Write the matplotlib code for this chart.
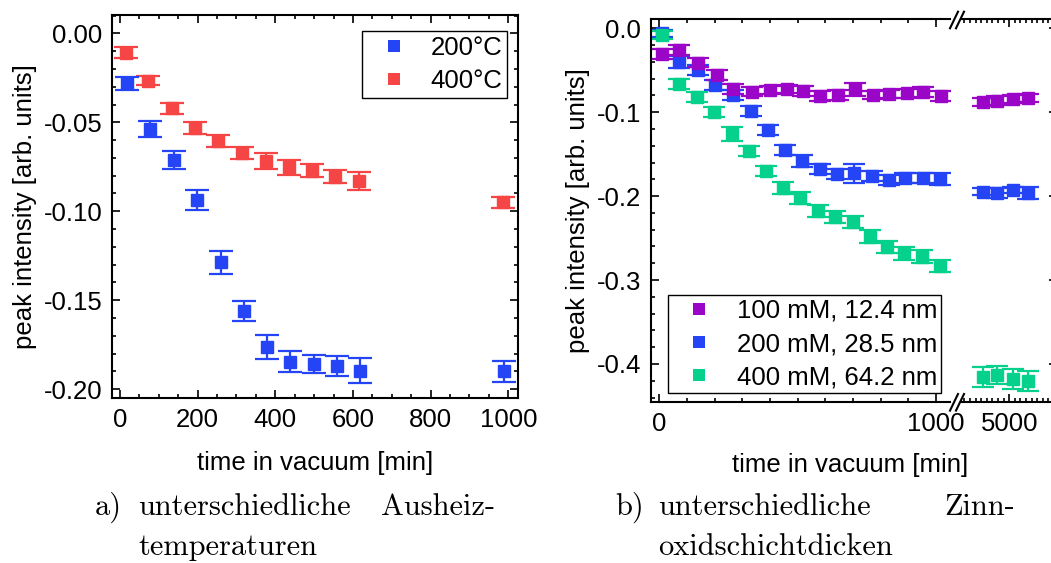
import numpy as np
import matplotlib
matplotlib.use("Agg")
import matplotlib.pyplot as plt
from matplotlib.lines import Line2D
from matplotlib.ticker import MultipleLocator, FixedLocator, FormatStrFormatter

plt.rcParams['font.family'] = ['Liberation Sans', 'DejaVu Sans']
plt.rcParams['axes.unicode_minus'] = False

# --- panel a: different annealing temperatures ---
x_200 = [17, 78, 138, 199, 259, 319, 379, 439, 499, 558, 618, 988]
y_200 = [-0.0281, -0.0539, -0.0712, -0.0937, -0.1287, -0.1560, -0.1764, -0.1845,
         -0.1858, -0.1870, -0.1895, -0.1900]
e_200 = [0.0036, 0.0044, 0.0050, 0.0058, 0.0065, 0.0058, 0.0066, 0.0060,
         0.0052, 0.0057, 0.0068, 0.0057]

x_400 = [15, 73, 133, 193, 253, 314, 375, 435, 495, 554, 615, 986]
y_400 = [-0.0109, -0.0266, -0.0421, -0.0530, -0.0603, -0.0671, -0.0717, -0.0753,
         -0.0772, -0.0805, -0.0830, -0.0948]
e_400 = [0.0031, 0.0027, 0.0030, 0.0034, 0.0034, 0.0035, 0.0044, 0.0043,
         0.0037, 0.0037, 0.0052, 0.0031]

# --- panel b: different tin oxide thicknesses (broken x axis) ---
x_100mM = [9, 71, 141, 207, 267, 334, 400, 460, 520, 581, 645, 707, 771, 831, 894, 954, 1017,
           3830, 4460, 5170, 5840]
y_100mM = [-0.0306, -0.0259, -0.0410, -0.0557, -0.0727, -0.0755, -0.0735, -0.0727, -0.0743,
           -0.0807, -0.0795, -0.0727, -0.0795, -0.0783, -0.0775, -0.0755, -0.0807,
           -0.0882, -0.0862, -0.0846, -0.0834]
e_100mM = [0.006, 0.006, 0.005, 0.006, 0.006, 0.005, 0.005, 0.005, 0.006, 0.006, 0.006,
           0.008, 0.005, 0.005, 0.005, 0.006, 0.006, 0.005, 0.005, 0.005, 0.005]

x_200mM = [9, 72, 141, 201, 267, 330, 394, 455, 514, 581, 641, 704, 767, 828, 888, 952, 1015,
           3830, 4460, 5170, 5840]
y_200mM = [-0.0060, -0.0398, -0.0497, -0.0676, -0.0795, -0.0986, -0.1212, -0.1450, -0.1578,
           -0.1680, -0.1737, -0.1729, -0.1760, -0.1808, -0.1788, -0.1788, -0.1800,
           -0.1947, -0.1967, -0.1927, -0.1967]
e_200mM = [0.004, 0.007, 0.006, 0.006, 0.006, 0.006, 0.006, 0.006, 0.007, 0.006, 0.006,
           0.011, 0.006, 0.006, 0.006, 0.006, 0.007, 0.004, 0.006, 0.004, 0.007]

x_400mM = [9, 71, 137, 198, 261, 324, 386, 448, 508, 574, 634, 700, 761, 824, 884, 948, 1015,
           3830, 4460, 5170, 5840]
y_400mM = [-0.0080, -0.0664, -0.0815, -0.0994, -0.1260, -0.1459, -0.1697, -0.1907, -0.2026,
           -0.2174, -0.2245, -0.2305, -0.2484, -0.2603, -0.2682, -0.2722, -0.2830,
           -0.4153, -0.4132, -0.4183, -0.4200]
e_400mM = [0.005, 0.006, 0.006, 0.006, 0.008, 0.006, 0.006, 0.007, 0.007, 0.007, 0.007,
           0.007, 0.008, 0.007, 0.008, 0.008, 0.007, 0.012, 0.011, 0.012, 0.012]

blue = '#2444f5'
red = '#f64545'
purple = '#9b05c8'
green = '#05d08c'

FS = 18.5
W, H = 1051, 563

def px(l, t, r, b):
    return [l / W, 1 - b / H, (r - l) / W, (b - t) / H]

fig = plt.figure(figsize=(W / 100, H / 100), dpi=100)

def style(ax):
    for s in ax.spines.values():
        s.set_linewidth(1.5)
    ax.tick_params(which='both', direction='in', top=True, right=True,
                   labelsize=FS, width=1.2, pad=7)
    ax.tick_params(which='major', length=6)
    ax.tick_params(which='minor', length=3)

def ebar(ax, x, y, e, c, ms=8.6, cs=8.5):
    ax.errorbar(x, y, yerr=e, fmt='s', color=c, ms=ms, mec=c, capsize=cs,
                elinewidth=1.6, capthick=1.6)

# panel a
ax1 = fig.add_axes(px(112, 15, 518.3, 398.3))
style(ax1)
ebar(ax1, x_400, y_400, e_400, red)
ebar(ax1, x_200, y_200, e_200, blue)
ax1.set_xlim(-20.6, 1025.7)
ax1.set_ylim(-0.2051, 0.0103)
ax1.xaxis.set_major_locator(MultipleLocator(200))
ax1.xaxis.set_minor_locator(MultipleLocator(50))
ax1.yaxis.set_major_locator(MultipleLocator(0.05))
ax1.yaxis.set_minor_locator(MultipleLocator(0.01))
ax1.yaxis.set_major_formatter(FormatStrFormatter('%.2f'))
ax1.set_xlabel('time in vacuum [min]', fontsize=FS, labelpad=14)
ax1.set_ylabel('peak intensity [arb. units]', fontsize=FS, labelpad=5)
h1 = [Line2D([], [], ls='none', marker='s', ms=8.6, mew=0, color=blue),
      Line2D([], [], ls='none', marker='s', ms=8.6, mew=0, color=red)]
leg1 = ax1.legend(h1, ['200°C', '400°C'], loc='upper right',
                  bbox_to_anchor=(0.972, 0.958), borderaxespad=0, fontsize=FS,
                  fancybox=False, edgecolor='black', framealpha=1,
                  handlelength=2.1, handletextpad=0.37, labelspacing=0.36,
                  borderpad=0.18)
leg1.get_frame().set_linewidth(1.0)

# panel b, left segment
ax2 = fig.add_axes(px(650.7, 19.3, 950, 402.3))
# panel b, right segment (extends past the figure edge)
ax3 = fig.add_axes(px(961.7, 19.3, 1057, 402.3))
for ax in (ax2, ax3):
    style(ax)
    ebar(ax, x_200mM, y_200mM, e_200mM, blue, ms=8, cs=8)
    ebar(ax, x_100mM, y_100mM, e_100mM, purple, ms=8, cs=8)
    ebar(ax, x_400mM, y_400mM, e_400mM, green, ms=8, cs=8)
    ax.set_ylim(-0.4457, 0.0107)
    ax.yaxis.set_major_locator(MultipleLocator(0.1))
    ax.yaxis.set_minor_locator(MultipleLocator(0.02))
    ax.yaxis.set_major_formatter(FormatStrFormatter('%.1f'))

ax2.set_xlim(-31, 1050)
ax2.xaxis.set_major_locator(MultipleLocator(1000))
ax2.xaxis.set_minor_locator(MultipleLocator(100))
ax2.spines['right'].set_visible(False)
ax2.tick_params(which='both', right=False)

ax3.set_xlim(2875, 7130)
ax3.xaxis.set_major_locator(FixedLocator([5000]))
ax3.xaxis.set_minor_locator(MultipleLocator(250))
ax3.spines['left'].set_visible(False)
ax3.tick_params(which='both', left=False, labelleft=False)

ax2.set_ylabel('peak intensity [arb. units]', fontsize=FS, labelpad=5)
fig.text(850 / W, 1 - 465 / H, 'time in vacuum [min]', fontsize=FS,
         ha='center', va='center')

h2 = [Line2D([], [], ls='none', marker='s', ms=8, mew=0, color=purple),
      Line2D([], [], ls='none', marker='s', ms=8, mew=0, color=blue),
      Line2D([], [], ls='none', marker='s', ms=8, mew=0, color=green)]
leg2 = ax2.legend(h2, ['100 mM, 12.4 nm', '200 mM, 28.5 nm', '400 mM, 64.2 nm'],
                  loc='lower left', bbox_to_anchor=(0.0568, 0.0235), borderaxespad=0,
                  fontsize=FS, fancybox=False, edgecolor='black', framealpha=1,
                  handlelength=2.1, handletextpad=0.45, labelspacing=0.36,
                  borderpad=0.15)
leg2.get_frame().set_linewidth(1.0)

# break marks
for yc in (20, 402.3):
    for x0 in (950, 956):
        fig.add_artist(Line2D([x0 / W, (x0 + 8) / W],
                              [1 - (yc + 8.3) / H, 1 - (yc - 8.3) / H],
                              color='black', lw=1.5))

# captions (LaTeX-like serif)
cap = dict(fontsize=21.9, fontfamily='cmr10', va='baseline')
fig.text(95 / W, 1 - 515 / H, 'a)', ha='left', **cap)
fig.text(138.3 / W, 1 - 515 / H, 'unterschiedliche', ha='left', **cap)
fig.text(495 / W, 1 - 515 / H, 'Ausheiz-', ha='right', **cap)
fig.text(138.3 / W, 1 - 555 / H, 'temperaturen', ha='left', **cap)
fig.text(615 / W, 1 - 515 / H, 'b)', ha='left', **cap)
fig.text(658.3 / W, 1 - 515 / H, 'unterschiedliche', ha='left', **cap)
fig.text(1015 / W, 1 - 515 / H, 'Zinn-', ha='right', **cap)
fig.text(658.3 / W, 1 - 555 / H, 'oxidschichtdicken', ha='left', **cap)

fig.savefig('out.png', dpi=100)
